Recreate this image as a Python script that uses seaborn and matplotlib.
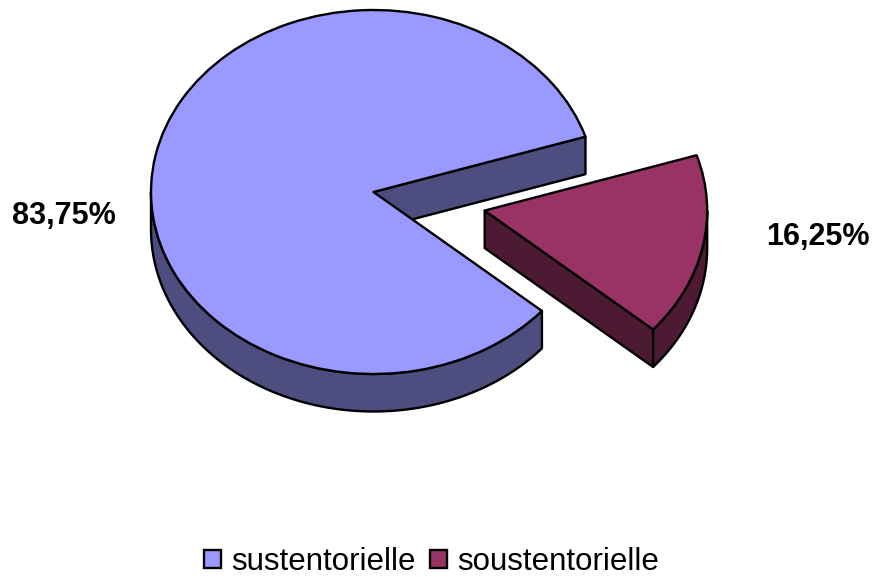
import numpy as np
import matplotlib
matplotlib.use('Agg')
import matplotlib.pyplot as plt
import seaborn as sns
from matplotlib.colors import to_rgb

# Valeurs du graphique
categories = ['sustentorielle', 'soustentorielle']
valeurs = [83.75, 16.25]
couleurs = ['#9999FF', '#993366']

sns.set_theme(style='white')
plt.rcParams['font.family'] = ['Liberation Sans', 'DejaVu Sans']

W, H = 872, 577
CX, CY = 373.5, 192   # centre de l'ellipse en pixels
RX, RY = 222.5, 182   # demi-axes
EP = 37.5 / RY        # epaisseur du disque
LW = 1.7

fig = plt.figure(figsize=(W / 100, H / 100), dpi=100)
ax = fig.add_axes([0, 0, 1, 1])

wedges, _ = ax.pie(valeurs, colors=couleurs, explode=[0, 0.51], startangle=17.7,
                   wedgeprops={'edgecolor': 'black', 'linewidth': LW, 'joinstyle': 'round', 'zorder': 3})

# La pie est aplatie : axes non egaux
ax.set_aspect('auto')
ax.set_xlim(-CX / RX, (W - CX) / RX)
ax.set_ylim((CY - H) / RY, CY / RY)


def point(w, deg):
    return np.array([w.center[0] + w.r * np.cos(np.radians(deg)),
                     w.center[1] + w.r * np.sin(np.radians(deg))])


# Faces laterales, dessinees sous les secteurs
for w, coul in zip(wedges, couleurs):
    sombre = np.array(to_rgb(coul)) * 0.5
    # face de coupe le long du premier rayon
    c = np.array(w.center)
    p = point(w, w.theta1)
    face = np.array([c, p, p - [0, EP], c - [0, EP]])
    ax.fill(face[:, 0], face[:, 1], facecolor=sombre, edgecolor='black', lw=LW, zorder=1, joinstyle='round')
    # bord exterieur visible (moitie basse)
    debut = max(w.theta1, 180)
    fin = min(w.theta2, 360)
    if fin <= debut:
        # secteur a cheval sur 360 degres
        debut, fin = w.theta1, 360
    angles = np.linspace(debut, fin, 120)
    haut = np.array([point(w, a) for a in angles])
    bas = haut - [0, EP]
    bord = np.vstack([haut, bas[::-1]])
    ax.fill(bord[:, 0], bord[:, 1], facecolor=sombre, edgecolor='black', lw=LW, zorder=2, joinstyle='round')

# Pourcentages
etiquettes = [f'{v:.2f}'.replace('.', ',') + '%' for v in valeurs]
fig.text(64 / W, 1 - 216 / H, etiquettes[0], ha='center', va='center', fontsize=22, fontweight='bold', color='black')
fig.text(818 / W, 1 - 237 / H, etiquettes[1], ha='center', va='center', fontsize=22, fontweight='bold', color='black')

leg = ax.legend(wedges, categories, loc='center', bbox_to_anchor=(431.5 / W, 1 - 562 / H), ncol=2,
                frameon=False, fontsize=22.5, handlelength=0.54, handleheight=0.54, handletextpad=0.32,
                columnspacing=0.45, borderpad=0, labelcolor='black')

fig.savefig('out.png', dpi=100, facecolor='white')
